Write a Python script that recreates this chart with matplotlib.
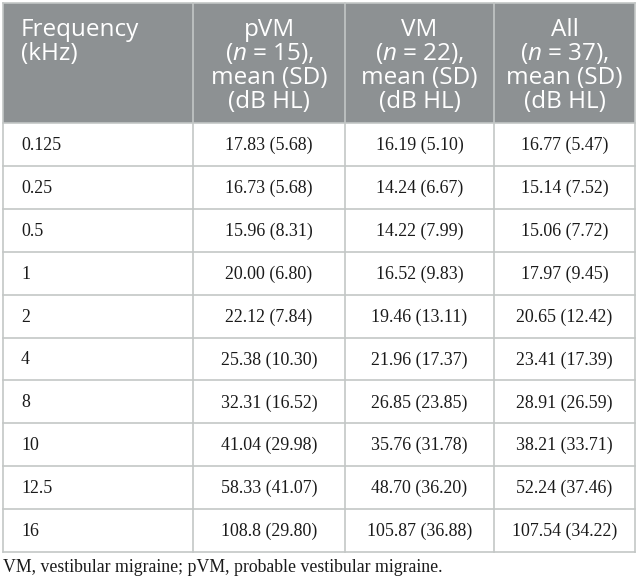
import matplotlib
matplotlib.use("Agg")
import matplotlib.pyplot as plt

plt.rcParams['mathtext.fontset'] = 'custom'
plt.rcParams['mathtext.rm'] = 'Open Sans'
plt.rcParams['mathtext.it'] = 'Open Sans:italic'

frequencies = ["0.125", "0.25", "0.5", "1", "2", "4", "8", "10", "12.5", "16"]
pvm_values = ["17.83 (5.68)", "16.73 (5.68)", "15.96 (8.31)", "20.00 (6.80)", "22.12 (7.84)",
              "25.38 (10.30)", "32.31 (16.52)", "41.04 (29.98)", "58.33 (41.07)", "108.8 (29.80)"]
vm_values = ["16.19 (5.10)", "14.24 (6.67)", "14.22 (7.99)", "16.52 (9.83)", "19.46 (13.11)",
             "21.96 (17.37)", "26.85 (23.85)", "35.76 (31.78)", "48.70 (36.20)", "105.87 (36.88)"]
all_values = ["16.77 (5.47)", "15.14 (7.52)", "15.06 (7.72)", "17.97 (9.45)", "20.65 (12.42)",
              "23.41 (17.39)", "28.91 (26.59)", "38.21 (33.71)", "52.24 (37.46)", "107.54 (34.22)"]
headers = [
    ["Frequency", "(kHz)"],
    ["pVM", "($n$ = 15),", "mean (SD)", "(dB HL)"],
    ["VM", "($n$ = 22),", "mean (SD)", "(dB HL)"],
    ["All", "($n$ = 37),", "mean (SD)", "(dB HL)"],
]
footnote = "VM, vestibular migraine; pVM, probable vestibular migraine."

W, H = 639, 583
fig = plt.figure(figsize=(W / 100, H / 100), dpi=100)
ax = fig.add_axes([0, 0, 1, 1])
ax.set_xlim(0, W)
ax.set_ylim(H, 0)
ax.axis('off')

header_color = '#8d9193'
line_color = '#c3c7c6'
col_x = [3, 193, 345, 494, 635]
top, head_bot, bottom = 3, 123, 552
n_rows = len(frequencies)
row_h = (bottom - head_bot) / n_rows

# header background
ax.add_patch(plt.Rectangle((col_x[0], top), col_x[-1] - col_x[0], head_bot - top,
                           facecolor=header_color, edgecolor='none', zorder=1))
# vertical lines
for x in col_x:
    ax.plot([x, x], [top, bottom], color=line_color, lw=1.2, zorder=2)
# horizontal lines
ax.plot([col_x[0], col_x[-1]], [top, top], color=line_color, lw=1.2, zorder=2)
for r in range(n_rows + 1):
    y = head_bot + r * row_h
    ax.plot([col_x[0], col_x[-1]], [y, y], color=line_color, lw=1.2, zorder=2)

# header text
hfont = dict(family='Open Sans', fontsize=17.5, color='white', va='baseline', zorder=3)
base0, step = 36, 24
for j, lines in enumerate(headers):
    for k, line in enumerate(lines):
        y = base0 + k * step
        if j == 0:
            ax.text(21, y, line, ha='left', **hfont)
        else:
            ax.text((col_x[j] + col_x[j + 1]) / 2, y, line, ha='center', **hfont)

# body
bfont = dict(family='Liberation Serif', fontsize=12.9, color='#1a1a1a', va='center', zorder=3)
for r in range(n_rows):
    yc = head_bot + (r + 0.5) * row_h + 1
    ax.text(21, yc, frequencies[r], ha='left', **bfont)
    for j, vals in enumerate([pvm_values, vm_values, all_values], start=1):
        ax.text((col_x[j] + col_x[j + 1]) / 2, yc, vals[r], ha='center', **bfont)

ax.text(3, 567, footnote, ha='left', va='center', family='Liberation Serif',
        fontsize=12.75, color='#1a1a1a')

fig.savefig('out.png', dpi=100)
